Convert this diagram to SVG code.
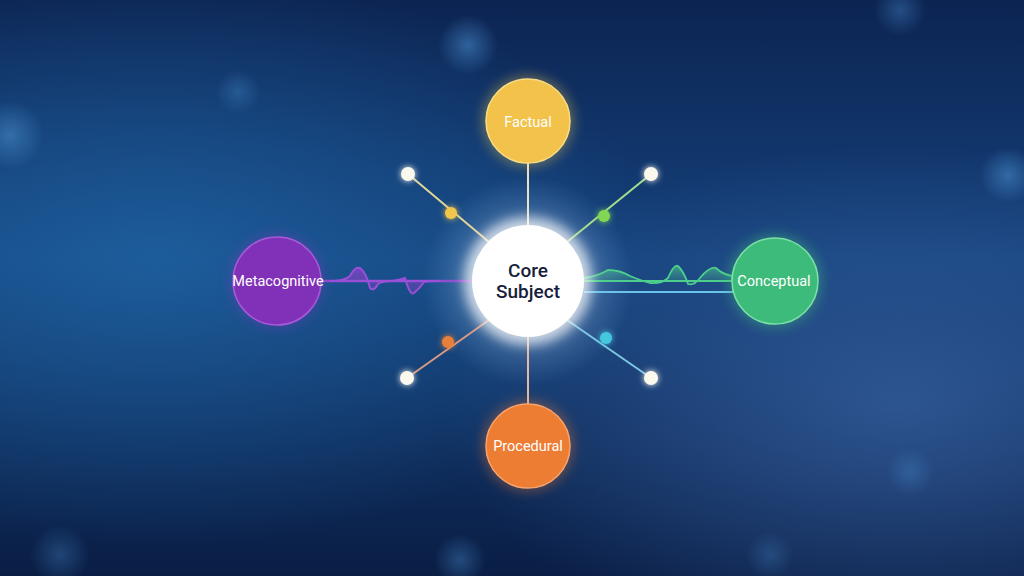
<svg xmlns="http://www.w3.org/2000/svg" width="1024" height="576" viewBox="0 0 1024 576">
<defs>
<linearGradient id="bg" x1="0" y1="0" x2="0" y2="1">
<stop offset="0" stop-color="#0c2452"/>
<stop offset="0.45" stop-color="#15427c"/>
<stop offset="1" stop-color="#0a1e45"/>
</linearGradient>
<radialGradient id="glowL" cx="0.15" cy="0.45" r="0.5">
<stop offset="0" stop-color="#2068a8" stop-opacity="0.7"/>
<stop offset="1" stop-color="#2068a8" stop-opacity="0"/>
</radialGradient>
<radialGradient id="glowR" cx="0.88" cy="0.7" r="0.45">
<stop offset="0" stop-color="#3a64a4" stop-opacity="0.7"/>
<stop offset="1" stop-color="#3a64a4" stop-opacity="0"/>
</radialGradient>
<radialGradient id="glowC" cx="0.5" cy="0.5" r="0.5">
<stop offset="0" stop-color="#ffffff" stop-opacity="0.7"/>
<stop offset="0.5" stop-color="#cfe6ff" stop-opacity="0.3"/>
<stop offset="1" stop-color="#8fc6ff" stop-opacity="0"/>
</radialGradient>
<radialGradient id="bokeh" cx="0.5" cy="0.5" r="0.5">
<stop offset="0" stop-color="#4b8fd0" stop-opacity="0.55"/>
<stop offset="1" stop-color="#4b8fd0" stop-opacity="0"/>
</radialGradient>
<filter id="soft" x="-50%" y="-50%" width="200%" height="200%">
<feGaussianBlur stdDeviation="3" result="b"/>
<feMerge><feMergeNode in="b"/><feMergeNode in="SourceGraphic"/></feMerge>
</filter>
<filter id="halo" x="-60%" y="-60%" width="220%" height="220%">
<feGaussianBlur stdDeviation="6"/>
</filter>
<linearGradient id="greenFill" x1="0" y1="0" x2="0" y2="1">
<stop offset="0" stop-color="#4fd08f" stop-opacity="0.6"/>
<stop offset="1" stop-color="#4fd08f" stop-opacity="0.08"/>
</linearGradient>
<linearGradient id="purpleFill" x1="0" y1="0" x2="0" y2="1">
<stop offset="0" stop-color="#9b3fd0" stop-opacity="0.7"/>
<stop offset="1" stop-color="#9b3fd0" stop-opacity="0.25"/>
</linearGradient>
</defs>
<style>
.lbl{font-family:Roboto,"Liberation Sans",sans-serif;font-size:14.5px;fill:#ffffff;text-anchor:middle;dominant-baseline:central}
.core{font-family:Roboto,"Liberation Sans",sans-serif;font-size:19px;font-weight:500;fill:#16203a;text-anchor:middle;dominant-baseline:central}
.end{fill:#fbf8ee;filter:url(#soft)}
.spoke{stroke-width:2;fill:none}
</style>
<rect width="1024" height="576" fill="url(#bg)"/>
<rect width="1024" height="576" fill="url(#glowL)"/>
<rect width="1024" height="576" fill="url(#glowR)"/>
<g id="bokeh-bg">
<circle cx="468" cy="45" r="30" fill="url(#bokeh)"/>
<circle cx="10" cy="135" r="34" fill="url(#bokeh)"/>
<circle cx="238" cy="92" r="22" fill="url(#bokeh)" opacity="0.6"/>
<circle cx="1008" cy="175" r="28" fill="url(#bokeh)"/>
<circle cx="900" cy="10" r="26" fill="url(#bokeh)" opacity="0.7"/>
<circle cx="910" cy="472" r="24" fill="url(#bokeh)" opacity="0.6"/>
<circle cx="460" cy="560" r="26" fill="url(#bokeh)" opacity="0.7"/>
<circle cx="60" cy="555" r="30" fill="url(#bokeh)" opacity="0.6"/>
<circle cx="770" cy="555" r="24" fill="url(#bokeh)" opacity="0.5"/>
</g>
<circle cx="528" cy="281" r="105" fill="url(#glowC)"/>
<g id="connectors">
<line class="spoke" x1="528" y1="163" x2="528" y2="225" stroke="#e9e2c4"/>
<line class="spoke" x1="528" y1="337" x2="528" y2="404" stroke="#e6b9a4"/>
<line class="spoke" x1="408" y1="174" x2="489" y2="242" stroke="#e2d59a"/>
<line class="spoke" x1="651" y1="174" x2="567" y2="242" stroke="#a7dd8e"/>
<line class="spoke" x1="407" y1="378" x2="489" y2="320" stroke="#d99a84"/>
<line class="spoke" x1="651" y1="378" x2="567" y2="320" stroke="#7cc7e2"/>
<circle cx="451" cy="213" r="6" fill="#f0c64e" filter="url(#soft)"/>
<circle cx="604" cy="216" r="6" fill="#82d654" filter="url(#soft)"/>
<circle cx="448" cy="342" r="6" fill="#e8803a" filter="url(#soft)"/>
<circle cx="606" cy="338" r="6" fill="#45c7de" filter="url(#soft)"/>
<circle class="end" cx="408" cy="174" r="7"/>
<circle class="end" cx="651" cy="174" r="7"/>
<circle class="end" cx="407" cy="378" r="7"/>
<circle class="end" cx="651" cy="378" r="7"/>
<path d="M320 281 L472 281" stroke="#8e4fd0" stroke-width="2.5" fill="none"/>
<path d="M330 281 Q345 281 350 276 Q355 266 360 268 Q366 272 370 288 Q374 292 378 284 Q382 281 392 281 Q400 280 405 278 Q410 296 414 293 Q420 288 424 282 Q428 281 440 281 Z" fill="url(#purpleFill)" stroke="#9a4fd8" stroke-width="2"/>
<path d="M584 278 Q598 276 608 270 Q620 270 630 276 Q642 281 650 283 Q662 284 668 278 Q674 264 678 266 Q684 272 688 284 Q694 286 700 278 Q710 266 716 268 Q722 274 732 276 L732 281 L584 281 Z" fill="url(#greenFill)" stroke="#4ccf8c" stroke-width="1.8"/>
<line x1="584" y1="292" x2="733" y2="292" stroke="#6cc3ea" stroke-width="2"/>
</g>
<g id="node-factual">
<circle cx="528" cy="121" r="46" fill="#f4c84a" opacity="0.35" filter="url(#halo)"/>
<circle cx="528" cy="121" r="42" fill="#f2c24a" stroke="#f9dd86" stroke-width="1.5"/>
<text class="lbl" x="528" y="122">Factual</text>
</g>
<g id="node-procedural">
<circle cx="528" cy="446" r="46" fill="#f07a30" opacity="0.35" filter="url(#halo)"/>
<circle cx="528" cy="446" r="42" fill="#ee7d34" stroke="#f7a46e" stroke-width="1.5"/>
<text class="lbl" x="528" y="446">Procedural</text>
</g>
<g id="node-metacognitive">
<circle cx="277" cy="281" r="47" fill="#8a35c8" opacity="0.35" filter="url(#halo)"/>
<circle cx="277" cy="281" r="44" fill="#8130b8" stroke="#a65ad6" stroke-width="1.5"/>
<text class="lbl" x="278" y="281">Metacognitive</text>
</g>
<g id="node-conceptual">
<circle cx="775" cy="281" r="47" fill="#3fc07d" opacity="0.4" filter="url(#halo)"/>
<circle cx="775" cy="281" r="43" fill="#3dbb7a" stroke="#7de0a8" stroke-width="1.5"/>
<text class="lbl" x="774" y="281">Conceptual</text>
</g>
<g id="node-core">
<circle cx="528" cy="281" r="64" fill="#ffffff" opacity="0.7" filter="url(#halo)"/>
<circle cx="528" cy="281" r="56" fill="#ffffff"/>
<text class="core" x="528" y="270">Core</text>
<text class="core" x="528" y="291">Subject</text>
</g>
</svg>
